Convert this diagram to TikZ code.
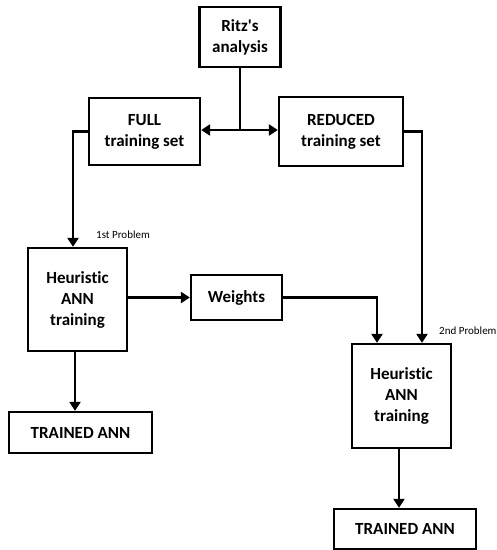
\documentclass[tikz,border=0pt]{standalone}
\usepackage{fontspec}
\setmainfont[Ligatures=NoCommon]{Carlito}
\usetikzlibrary{arrows.meta}
\begin{document}
\begin{tikzpicture}[x=1pt,y=-1pt,
  box/.style={draw,line width=2.3pt,align=center,inner sep=0pt,
    font=\fontsize{17}{21}\selectfont\bfseries},
  link/.style={line width=2.6pt},
  arrow/.style={link,-{Triangle[width=11pt,length=9pt]}},
  note/.style={font=\fontsize{11}{12}\selectfont,inner sep=0pt}]
\useasboundingbox (0,0) rectangle (497,550);
\fill[white] (0,0) rectangle (497,550);

% boxes
\node[box,minimum width=81pt,minimum height=60pt] (ritz) at (240,37) {Ritz\textquotesingle s\\analysis};
\node[box,minimum width=111pt,minimum height=67pt] (full) at (144.5,131.5) {FULL\\training set};
\node[box,minimum width=124pt,minimum height=69pt] (red) at (341,131.5) {REDUCED\\training set};
\node[box,minimum width=99pt,minimum height=103pt] (h1) at (77.5,299.5) {Heuristic\\ANN\\training};
\node[box,minimum width=91pt,minimum height=45pt] (w) at (236.5,297.5) {Weights};
\node[box,minimum width=99pt,minimum height=104pt] (h2) at (401.5,396) {Heuristic\\ANN\\training};
\node[box,minimum width=143pt,minimum height=41pt] (t1) at (80.5,432.5) {TRAINED ANN};
\node[box,minimum width=142pt,minimum height=40pt] (t2) at (405,529) {TRAINED ANN};

% labels
\node[note,anchor=west] (p1) at (96,235) {1st Problem};
\node[note,anchor=west] (p2) at (439,331) {2nd Problem};

% connectors
\coordinate (j) at (240,130);
\draw[link] (ritz.south) -- (j);
\draw[arrow] (j) -- (full.east |- j);
\draw[arrow] (j) -- (red.west |- j);
\draw[arrow] (full.west) -| ([xshift=-4.5pt]h1.north);
\draw[arrow] (red.east) -| ([xshift=20.5pt]h2.north);
\draw[arrow] (w.east -| h1.east) -- (w.west);
\draw[arrow] (w.east) -| ([xshift=-24.5pt]h2.north);
\draw[arrow] ([xshift=-2.5pt]h1.south) -- ([xshift=-2.5pt]h1.south |- t1.north);
\draw[arrow] ([xshift=-2.5pt]h2.south) -- ([xshift=-2.5pt]h2.south |- t2.north);
\end{tikzpicture}
\end{document}
